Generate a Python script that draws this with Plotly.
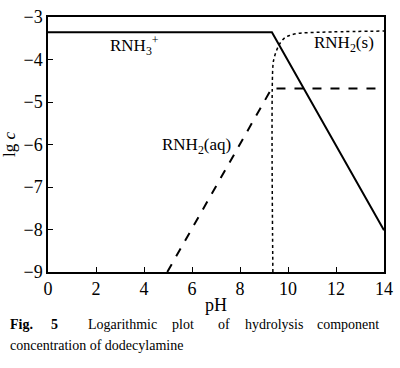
import plotly.graph_objects as go

# RNH3+ (solid)
rnh3_ph = [0, 9.33, 14]
rnh3_lgc = [-3.36, -3.36, -8.02]

# RNH2(aq) (dashed)
aq_ph = [4.97, 9.32, 14]
aq_lgc = [-9.0, -4.68, -4.68]

# RNH2(s) (dotted)
s_ph = [9.37, 9.37, 9.42, 9.55, 9.69, 9.89, 10.09, 10.36, 10.77, 11.85, 14]
s_lgc = [-9.0, -4.16, -3.97, -3.75, -3.60, -3.48, -3.43, -3.39, -3.37, -3.35, -3.33]

x_ticks = [0, 2, 4, 6, 8, 10, 12, 14]
y_ticks = [-3, -4, -5, -6, -7, -8, -9]

FONT = "Liberation Serif"

fig = go.Figure()
fig.add_trace(go.Scatter(x=rnh3_ph, y=rnh3_lgc, mode="lines",
                         line=dict(color="black", width=2), showlegend=False))
fig.add_trace(go.Scatter(x=aq_ph, y=aq_lgc, mode="lines",
                         line=dict(color="black", width=2, dash="dash"), showlegend=False))
fig.add_trace(go.Scatter(x=s_ph, y=s_lgc, mode="lines", line_shape="spline",
                         line=dict(color="black", width=1.5, dash="dot"), showlegend=False))

L, R, T, B = 48, 393, 7, 272

fig.update_layout(
    width=400, height=368,
    margin=dict(l=L, r=400 - R, t=T, b=368 - B),
    paper_bgcolor="white", plot_bgcolor="white",
    font=dict(family=FONT, color="black", size=17),
    xaxis=dict(range=[0, 14], tickvals=x_ticks, ticks="inside", ticklen=5,
               tickcolor="black", showline=True, linecolor="black", linewidth=1.5,
               mirror=True, showgrid=False, zeroline=False, ticklabeloverflow="allow",
               title=dict(text="pH", font=dict(size=18, family=FONT), standoff=0),
               tickfont=dict(size=18, family=FONT)),
    yaxis=dict(range=[-9, -3], tickvals=y_ticks, ticks="inside", ticklen=5,
               tickcolor="black", showline=True, linecolor="black", linewidth=1.5,
               mirror=True, showgrid=False, zeroline=False, ticklabeloverflow="allow",
               title=dict(text="lg <i>c</i>", font=dict(size=17, family=FONT), standoff=4),
               tickfont=dict(size=18, family=FONT)),
)

fig.add_annotation(x=3.6, y=-3.66, xref="x", yref="y", showarrow=False,
                   text="RNH<sub>3</sub><sup>+</sup>", font=dict(size=17))
fig.add_annotation(x=12.35, y=-3.64, xref="x", yref="y", showarrow=False,
                   text="RNH<sub>2</sub>(s)", font=dict(size=17))
fig.add_annotation(x=6.2, y=-6.03, xref="x", yref="y", showarrow=False,
                   text="RNH<sub>2</sub>(aq)", font=dict(size=17))


def px2paper(px, py):
    return (px - L) / (R - L), (B - py) / (B - T)


# caption (justified first line)
cap_words = [("<b>Fig.</b>", 7), ("<b>5</b>", 49), ("Logarithmic", 87), ("plot", 173),
             ("of", 220), ("hydrolysis", 248), ("component", 322)]
for w, px in cap_words:
    xp, yp = px2paper(px, 327)
    fig.add_annotation(x=xp, y=yp, xref="paper", yref="paper",
                       xanchor="left", yanchor="middle", showarrow=False,
                       text=w, font=dict(size=14, family=FONT))
xp, yp = px2paper(7, 348)
fig.add_annotation(x=xp, y=yp, xref="paper", yref="paper",
                   xanchor="left", yanchor="middle", showarrow=False,
                   text="concentration of dodecylamine", font=dict(size=14, family=FONT))

fig.write_html("out.html")
